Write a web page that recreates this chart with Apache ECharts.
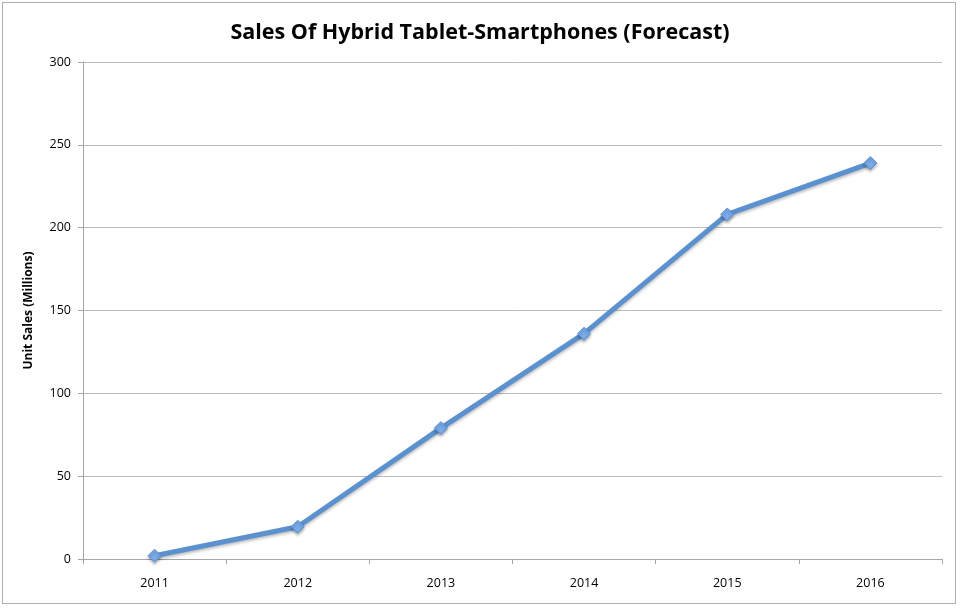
<!DOCTYPE html>
<html>
<head>
<meta charset="utf-8">
<script src="https://cdn.jsdelivr.net/npm/echarts@6/dist/echarts.min.js"></script>
<style>
html,body{margin:0;padding:0;background:#fff;}
#wrap{position:absolute;left:2px;top:2px;width:954px;height:602px;border:1px solid #b0b0b0;box-sizing:border-box;}
#c{position:absolute;left:0;top:0;width:960px;height:608px;}
</style>
</head>
<body>
<div id="wrap"></div>
<div id="c"></div>
<script>
const years = ['2011','2012','2013','2014','2015','2016'];
const sales = [2, 19.5, 79, 136, 208, 239];
const yTicks = {min: 0, max: 300, interval: 50};

const chart = echarts.init(document.getElementById('c'), null, {renderer: 'canvas'});
chart.setOption({
  animation: false,
  backgroundColor: 'transparent',
  title: {
    text: 'Sales Of Hybrid Tablet-Smartphones (Forecast)',
    left: 'center',
    top: 17,
    textStyle: {fontFamily: 'Open Sans', fontSize: 21.5, fontWeight: 'bold', color: '#000'}
  },
  grid: {left: 83, right: 18, top: 62, bottom: 49, containLabel: false},
  xAxis: {
    type: 'category',
    data: years,
    boundaryGap: true,
    axisLine: {lineStyle: {color: '#a6a6a6', width: 1}},
    axisTick: {show: true, length: 5, lineStyle: {color: '#a6a6a6'}},
    axisLabel: {fontFamily: 'Open Sans', fontSize: 12.5, color: '#000', margin: 18}
  },
  yAxis: {
    type: 'value',
    min: yTicks.min, max: yTicks.max, interval: yTicks.interval,
    name: 'Unit Sales (Millions)',
    nameLocation: 'middle',
    nameGap: 48,
    nameTextStyle: {fontFamily: 'Open Sans', fontSize: 12, fontWeight: 'bold', color: '#000'},
    axisLine: {show: true, lineStyle: {color: '#a6a6a6', width: 1}},
    axisTick: {show: true, length: 5, lineStyle: {color: '#a6a6a6'}},
    axisLabel: {fontFamily: 'Open Sans', fontSize: 12.5, color: '#000', margin: 12},
    splitLine: {show: true, lineStyle: {color: '#bdbdbd', width: 1}}
  },
  series: [{
    type: 'line',
    data: sales,
    symbol: 'diamond',
    symbolSize: 13,
    lineStyle: {color: '#5b91cf', width: 5, shadowColor: 'rgba(0,0,0,0.25)', shadowBlur: 3, shadowOffsetY: 2},
    itemStyle: {color: '#7aaaea', borderColor: '#5b91cf', borderWidth: 1, shadowColor: 'rgba(0,0,0,0.3)', shadowBlur: 3, shadowOffsetY: 2}
  }]
});
</script>
</body>
</html>
